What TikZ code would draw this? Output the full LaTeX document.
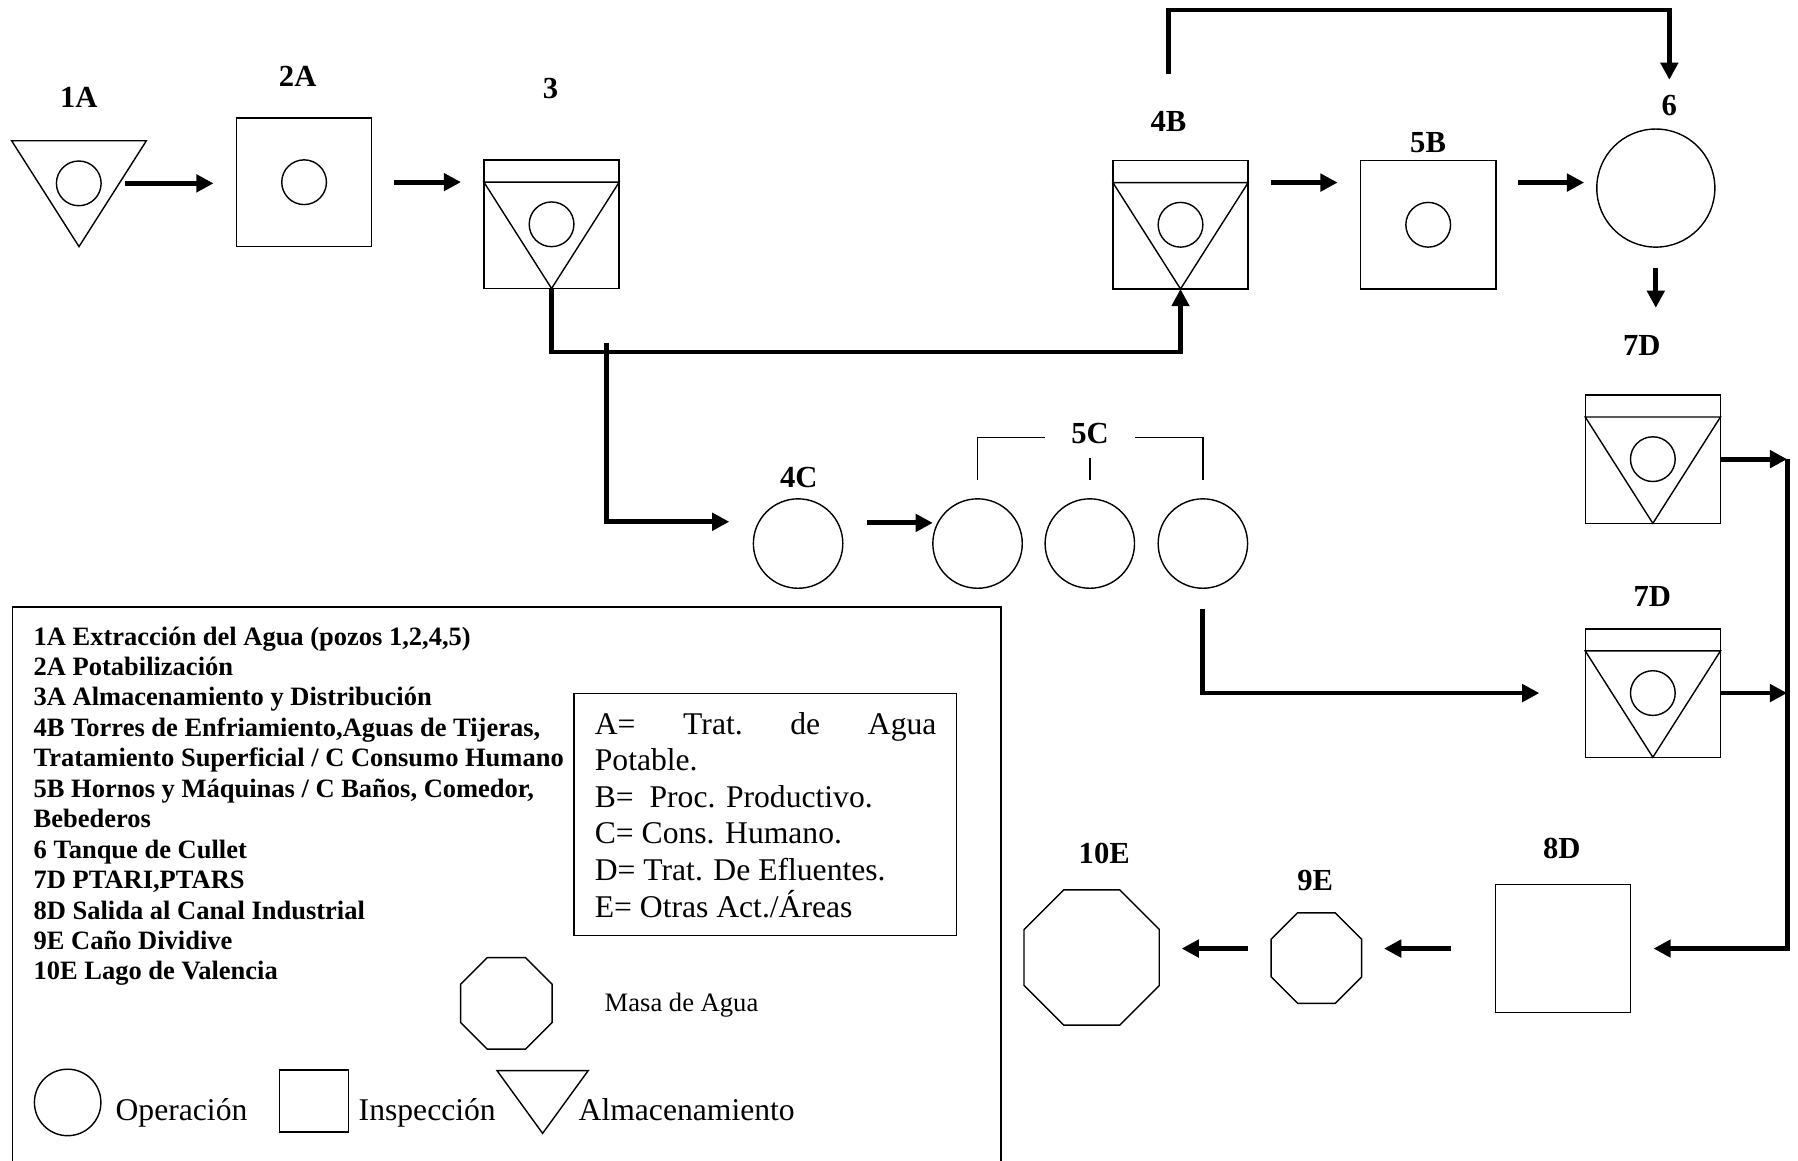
\documentclass[tikz,border=0pt]{standalone}
\usepackage{fontspec}
\setmainfont{Liberation Serif}
\usetikzlibrary{arrows.meta,shapes.geometric}

\tikzset{
  fino/.style={line width=0.7pt},
  flecha/.style={line width=2.4pt, -{Triangle[length=0.3cm,width=0.3cm]}},
  insp/.style={draw, fino, rectangle, minimum width=2.36cm, minimum height=2.24cm, inner sep=0pt, outer sep=0pt},
  opch/.style={draw, fino, circle, minimum size=0.78cm, inner sep=0pt},
  opgr/.style={draw, fino, circle, minimum size=1.56cm, inner sep=0pt, outer sep=0pt},
  masa/.style={draw, fino, regular polygon, regular polygon sides=8, inner sep=0pt, outer sep=0pt},
  hueco/.style={rectangle, inner sep=0pt, outer sep=0pt},
  etiq/.style={inner sep=0pt, font=\fontsize{15.2}{17}\selectfont\bfseries},
  ley/.style={inner sep=0pt, anchor=base west, font=\fontsize{13.15}{15}\selectfont\bfseries},
  clv/.style={inner sep=0pt, anchor=base west, font=\fontsize{15.7}{18}\selectfont},
}

\begin{document}
\begin{tikzpicture}[x=0.02cm, y=-0.02cm]
  \useasboundingbox (0,0) rectangle (1568,1012);
  % Fila superior (A y B)
  \node[hueco, minimum width=2.35cm, minimum height=1.846cm] (t1A) at (68.9,168.9) {};
  \draw[fino] (t1A.north west) -- (t1A.north east) -- (t1A.south) -- cycle;
  \node[opch] (c1A) at (68.7,159.9) {};
  \node[insp] (b2A) at (265.2,158.9) {};
  \node[opch] at (b2A) {};
  \foreach \n/\x/\y in {t3/481/195.6, t4B/1029.5/196, t7Da/1441.4/400.4, t7Db/1441.4/604.4} {
    \node[insp] (\n) at (\x,\y) {};
    \draw[fino] ([yshift=-0.384cm]\n.north west) coordinate (\n-l) -- ([yshift=-0.384cm]\n.north east) coordinate (\n-r) -- (\n.south) -- cycle;
    \node[opch] at (\n) {};
  }
  \node[insp] (b5B) at (1245.5,196) {};
  \node[opch] at (b5B) {};
  \node[opgr, minimum size=2.06cm] (c6) at (1444,164) {};
  % Consumo humano
  \node[opgr] (c4C) at (696,474) {};
  \foreach \n/\x in {a/852.5, b/950.4, c/1049}
    \node[opgr] (c5C\n) at (\x,474) {};
  % Efluentes y masas de agua
  \node[insp] (b8D) at (1363,827.2) {};
  \node[masa, minimum size=1.71cm] (o9E) at (1148,835.5) {};
  \node[masa, minimum size=2.554cm] (o10E) at (952,835) {};
  % Etiquetas
  \foreach \n/\t/\x/\y in {l1A/1A/68.7/85.2, l2A/2A/259.6/66.6, l3/3/480.2/77, l4B/4B/1019/105.5, l5B/5B/1245.4/124.4, l6/6/1455.8/92.4, l7Da/7D/1431.7/300.9, l7Db/7D/1441/520.3, l4C/4C/696.6/416, l5C/5C/950.6/378, l8D/8D/1362/740, l9E/9E/1147/768, l10E/10E/963/744}
    \node[etiq] (\n) at (\x,\y) {\t};
  % Conexiones
  \draw[flecha, shorten <=0.4cm, shorten >=0.4cm] (c1A.east) -- (c1A.east -| b2A.west);
  \draw[flecha, shorten <=0.38cm, shorten >=0.4cm] (t3-r -| b2A.east) -- (t3-r -| t3.west);
  \coordinate (ramal) at (529,307);
  \draw[flecha] (t3.south) |- (t4B.south |- ramal) -- (t4B.south);
  \draw[flecha, shorten >=0.42cm] ([yshift=0.15cm]ramal) |- ([yshift=0.38cm]c4C.west);
  \draw[flecha, shorten <=0.42cm] ([yshift=0.36cm]c4C.east) -- ([yshift=0.36cm]c4C.east -| c5Ca.west);
  \draw[flecha, shorten <=0.39cm, shorten >=0.4cm] (t4B-r) -- (t4B-r -| b5B.west);
  \draw[flecha, shorten <=0.38cm, shorten >=0.22cm] (t4B-r -| b5B.east) -- (t4B-r -| c6.west);
  \coordinate (techo) at (1240,8.7);
  \draw[flecha, shorten <=0.63cm, shorten >=0.27cm] (l4B.north) -- (l4B.north |- techo) -- (l6.north |- techo) -- (l6.north);
  \draw[flecha, shorten <=0.37cm, shorten >=1.52cm] (c6.south) -- (c6.south |- t7Da.north);
  \draw[flecha, shorten <=0.36cm, shorten >=0.8cm] (c5Cc.south) |- (t7Db.west);
  \coordinate (colector) at (1558.5,400.4);
  \draw[flecha] (t7Da.east) -- (t7Da.east -| colector);
  \draw[flecha] (t7Db.east) -- (t7Db.east -| colector);
  \draw[flecha, shorten >=0.4cm] (t7Da.east -| colector) |- (b8D.east);
  \draw[flecha, shorten <=0.78cm, shorten >=0.39cm] (b8D.west) -- (b8D.west -| o9E.east);
  \draw[flecha, shorten <=0.41cm, shorten >=0.39cm] (b8D.west -| o9E.west) -- (b8D.west -| o10E.east);
  % Llave de 5C
  \coordinate (llave) at (950.5,381.7);
  \draw[fino] ([yshift=0.33cm]c5Ca.north) |- ([xshift=-0.79cm]llave);
  \draw[fino] ([yshift=0.33cm]c5Cc.north) |- ([xshift=0.79cm]llave);
  \draw[fino] ([yshift=0.33cm]c5Cb.north) -- ([yshift=0.71cm]c5Cb.north);
  % Leyenda
  \draw[fino] (11,1016) -- (11,529.4) -- (873,529.4) -- (873,1016);
  \foreach \t [count=\i from 0] in {{1A Extracción del Agua (pozos 1,2,4,5)}, 2A Potabilización, 3A Almacenamiento y Distribución, {4B Torres de Enfriamiento,Aguas de Tijeras,}, Tratamiento Superficial / C Consumo Humano, {5B Hornos y Máquinas / C Baños, Comedor,}, Bebederos, 6 Tanque de Cullet, {7D PTARI,PTARS}, 8D Salida al Canal Industrial, 9E Caño Dividive, 10E Lago de Valencia}
    \node[ley] (ley\i) at (29,{562.5+26.55*\i}) {\t};
  \node[draw, fino, minimum width=6.674cm, minimum height=4.22cm, inner sep=0pt] (clave) at (667.5,710.5) {};
  \foreach \t [count=\i from 0] in {{\makebox[5.96cm][l]{A=\hfill Trat.\hfill de\hfill Agua}}, Potable., B=~~Proc. Productivo., C= Cons. Humano., D= Trat. De Efluentes., E= Otras Act./Áreas}
    \node[clv] (clv\i) at (518.4,{640.3+31.9*\i}) {\t};
  \node[masa, minimum size=1.73cm] (leyMasa) at (441.6,875) {};
  \node[inner sep=0pt, anchor=base west, font=\fontsize{13.2}{15}\selectfont] (tMasa) at (527,882) {Masa de Agua};
  \node[opgr, minimum size=1.16cm] (leyOp) at (59,961.4) {};
  \node[insp, minimum width=1.2cm, minimum height=1.08cm] (leyIn) at (273.7,960) {};
  \node[hueco, minimum width=1.59cm, minimum height=1.094cm] (leyAl) at (473.2,961) {};
  \draw[fino] (leyAl.north west) -- (leyAl.north east) -- (leyAl.south) -- cycle;
  \node[clv] (tOp) at (100.5,977) {Operación};
  \node[clv] (tIn) at (312.5,977) {Inspección};
  \node[clv] (tAl) at (504.3,977) {Almacenamiento};
\end{tikzpicture}
\end{document}
